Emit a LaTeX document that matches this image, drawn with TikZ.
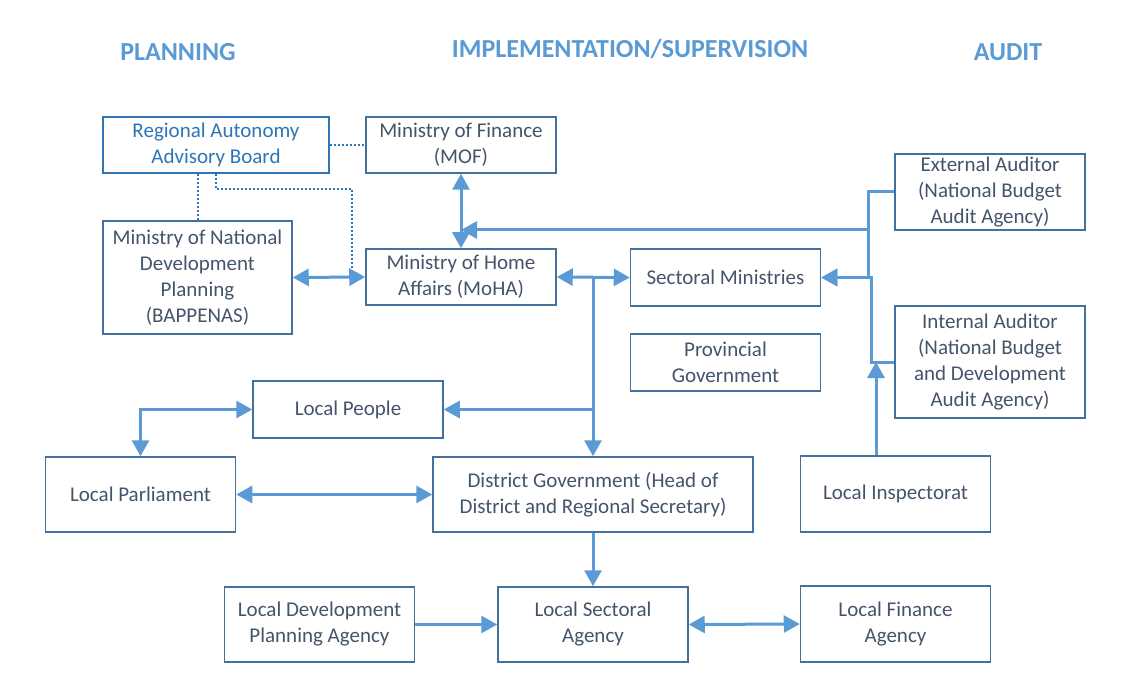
\documentclass[tikz,border=0pt]{standalone}
\usepackage{fontspec}
\setmainfont{Carlito}
\usetikzlibrary{arrows.meta}
\definecolor{boxblue}{HTML}{41719C}
\definecolor{txtgray}{HTML}{44546A}
\definecolor{arrblue}{HTML}{5B9BD5}
\definecolor{raabblue}{HTML}{2E75B6}
\begin{document}
\begin{tikzpicture}[x=1pt, y=-1pt,
  box/.style={rectangle, draw=boxblue, line width=1.5pt, text=txtgray, align=center, inner sep=0pt,
    minimum width=190pt, minimum height=57pt, font=\fontsize{21}{26}\selectfont},
  heading/.style={text=arrblue, font=\fontsize{26}{30}\selectfont\bfseries},
  flow/.style={draw=arrblue, line width=3pt, >={Triangle[length=16pt, width=17pt]}},
  dots/.style={draw=raabblue, line width=2pt, dash pattern=on 2pt off 2pt}]
\useasboundingbox (0,0) rectangle (1127,695);

\node[heading] (Planning) at (178,52) {PLANNING};
\node[heading] (Implementation) at (630,49) {IMPLEMENTATION/SUPERVISION};
\node[heading] (Audit) at (1008,52) {AUDIT};

\node[box, draw=raabblue, text=raabblue, minimum width=226pt, minimum height=56pt] (RegionalBoard) at (216,145) {Regional Autonomy\\Advisory Board};
\node[box, minimum height=56pt] (MinFinance) at (461,145) {Ministry of Finance\\(MOF)};
\node[box, minimum width=189pt, minimum height=113pt] (MinPlanning) at (197.5,277.5) {Ministry of National\\Development\\Planning\\(BAPPENAS)};
\node[box, minimum height=56pt] (MinHome) at (461,277) {Ministry of Home\\Affairs (MoHA)};
\node[box] (SectMin) at (725.5,277.5) {Sectoral Ministries};
\node[box] (ProvGov) at (725.5,362.5) {Provincial\\Government};
\node[box, minimum height=76pt] (ExtAudit) at (990,192) {External Auditor\\(National Budget\\Audit Agency)};
\node[box, minimum height=112pt] (IntAudit) at (990,362) {Internal Auditor\\(National Budget\\and Development\\Audit Agency)};
\node[box] (LocalPeople) at (348,409.5) {Local People};
\node[box, minimum height=75pt] (LocalParl) at (140.5,494.5) {Local Parliament};
\node[box, minimum width=320pt, minimum height=75pt] (DistrictGov) at (593,494.5) {District Government (Head of\\District and Regional Secretary)};
\node[box, minimum height=76pt] (LocalInsp) at (895.5,494) {Local Inspectorat};
\node[box, minimum height=75pt] (LocalDevPlan) at (319.5,624.5) {Local Development\\Planning Agency};
\node[box, minimum height=75pt] (LocalSect) at (593,624.5) {Local Sectoral\\Agency};
\node[box, minimum height=76pt] (LocalFin) at (895.5,624) {Local Finance\\Agency};

\coordinate (BoardTap) at (352,277);
\coordinate (AuditJoin) at (868,230);

\draw[dots] (RegionalBoard.east) -- (MinFinance.west);
\draw[dots] (MinPlanning.north) -- (MinPlanning.north |- RegionalBoard.south);
\draw[dots] (RegionalBoard.south) -- ++(0,15) -| (BoardTap);

\draw[flow, <->] (MinPlanning.east) -- (MinHome.west);
\draw[flow, <->] (MinFinance.south) -- (MinHome.north);
\draw[flow, <->] (MinHome.east) -- (SectMin.west);
\draw[flow, ->] (DistrictGov.north |- SectMin.west) -- (DistrictGov.north);
\draw[flow, ->] (DistrictGov.north |- LocalPeople.east) -- (LocalPeople.east);
\draw[flow, <->] (LocalPeople.west) -| (LocalParl.north);
\draw[flow, <->] (LocalParl.east) -- (DistrictGov.west);
\draw[flow, ->] (DistrictGov.south) -- (LocalSect.north);
\draw[flow, ->] (LocalDevPlan.east) -- (LocalSect.west);
\draw[flow, <->] (LocalSect.east) -- (LocalFin.west);

\draw[flow, ->] (ExtAudit.west) -| (AuditJoin) -- (MinHome.north |- AuditJoin);
\draw[flow, ->] (AuditJoin) |- (SectMin.east);
\draw[flow, ->] (IntAudit.west) -- ++(-23,0) |- (SectMin.east);
\draw[flow, ->] ([xshift=-19.5pt]LocalInsp.north) -- ([xshift=-19.5pt]LocalInsp.north |- IntAudit.west);
\end{tikzpicture}
\end{document}
